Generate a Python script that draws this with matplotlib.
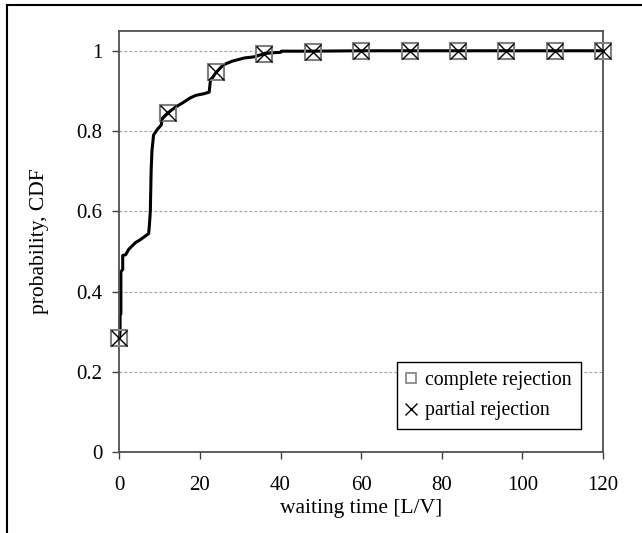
import matplotlib
matplotlib.use("Agg")
import matplotlib.pyplot as plt
from matplotlib.lines import Line2D

# traced CDF curve
curve_x = [0, 0.2, 0.2, 0.4, 0.4, 0.85, 0.85, 1.6, 2.3, 3.0, 4.0, 5.0, 6.0, 7.3, 7.5,
           7.7, 7.9, 8.1, 8.5, 9.5, 10.4, 10.7, 12, 14, 16, 17.5, 19, 21, 22.3, 22.6,
           24, 25.8, 28, 31, 33.5, 36, 38, 40, 40.2, 48, 60, 120]
curve_y = [0.285, 0.30, 0.34, 0.345, 0.45, 0.455, 0.49, 0.492, 0.505, 0.512, 0.522,
           0.528, 0.535, 0.545, 0.57, 0.60, 0.70, 0.75, 0.79, 0.805, 0.815, 0.832,
           0.845, 0.86, 0.872, 0.882, 0.889, 0.893, 0.897, 0.925, 0.946, 0.965, 0.974,
           0.982, 0.985, 0.993, 0.995, 0.996, 0.999, 0.999, 1.0, 1.0]

marker_x = [0, 12, 24, 36, 48, 60, 72, 84, 96, 108, 120]
complete_y = [0.285, 0.846, 0.946, 0.993, 0.998, 1.0, 1.0, 1.0, 1.0, 1.0, 1.0]
partial_y = [0.285, 0.846, 0.946, 0.993, 0.998, 1.0, 1.0, 1.0, 1.0, 1.0, 1.0]

xticks = [0, 20, 40, 60, 80, 100, 120]
yticks = [0, 0.2, 0.4, 0.6, 0.8, 1.0]
ytick_labels = ["0", "0.2", "0.4", "0.6", "0.8", "1"]

plt.rcParams['font.family'] = ['Liberation Serif', 'DejaVu Serif']

fig = plt.figure(figsize=(6.42, 5.33), dpi=100)
ax = fig.add_axes([0.1858, 0.1516, 0.7535, 0.7908])

for y in yticks[1:]:
    ax.axhline(y, color='#a0a0a0', lw=0.8, linestyle=(0, (2.5, 2)), zorder=0)

ax.plot(curve_x, curve_y, color='black', lw=2.2, zorder=2, clip_on=False)
ax.plot(marker_x, complete_y, linestyle='none', marker='s', markersize=12,
        markerfacecolor='none', markeredgecolor='#808080', markeredgewidth=1.5,
        zorder=3, clip_on=False)
ax.plot(marker_x, partial_y, linestyle='none', marker='x', markersize=12,
        markeredgecolor='black', markeredgewidth=1.0, zorder=4, clip_on=False)

ax.set_xlim(0, 120)
ax.set_ylim(0, 1.05)
ax.set_xticks(xticks)
ax.set_yticks(yticks)
ax.set_yticklabels(ytick_labels)
ax.tick_params(axis='both', direction='out', length=5, width=1, color='#404040',
               labelsize=15, pad=7)
ax.tick_params(axis='x', pad=12)
for s in ax.spines.values():
    s.set_color('#505050')
    s.set_linewidth(1.3)

ax.set_xlabel('waiting time [L/V]', fontsize=15.5, labelpad=3)
ax.set_ylabel('probability, CDF', fontsize=15.5, labelpad=20)

handles = [
    Line2D([], [], linestyle='none', marker='s', markersize=7, markerfacecolor='none',
           markeredgecolor='#808080', markeredgewidth=1.2, label='complete rejection'),
    Line2D([], [], linestyle='none', marker='x', markersize=9, markeredgecolor='black',
           markeredgewidth=1.0, label='partial rejection'),
]
leg = ax.legend(handles=handles, loc='upper right', bbox_to_anchor=(0.954, 0.2147),
                borderaxespad=0, frameon=True, fancybox=False, framealpha=1,
                edgecolor='black', fontsize=14.2, handlelength=0.6, handletextpad=0.4,
                labelspacing=0.6, borderpad=0.45)
leg.get_frame().set_linewidth(1.0)

# figure border (top and left)
fig.add_artist(Line2D([7 / 642, 7 / 642], [0, 1 - 5 / 533], transform=fig.transFigure,
                      color='black', lw=1.5))
fig.add_artist(Line2D([7 / 642, 1], [1 - 5 / 533, 1 - 5 / 533], transform=fig.transFigure,
                      color='black', lw=1.5))

fig.savefig('out.png', dpi=100)
